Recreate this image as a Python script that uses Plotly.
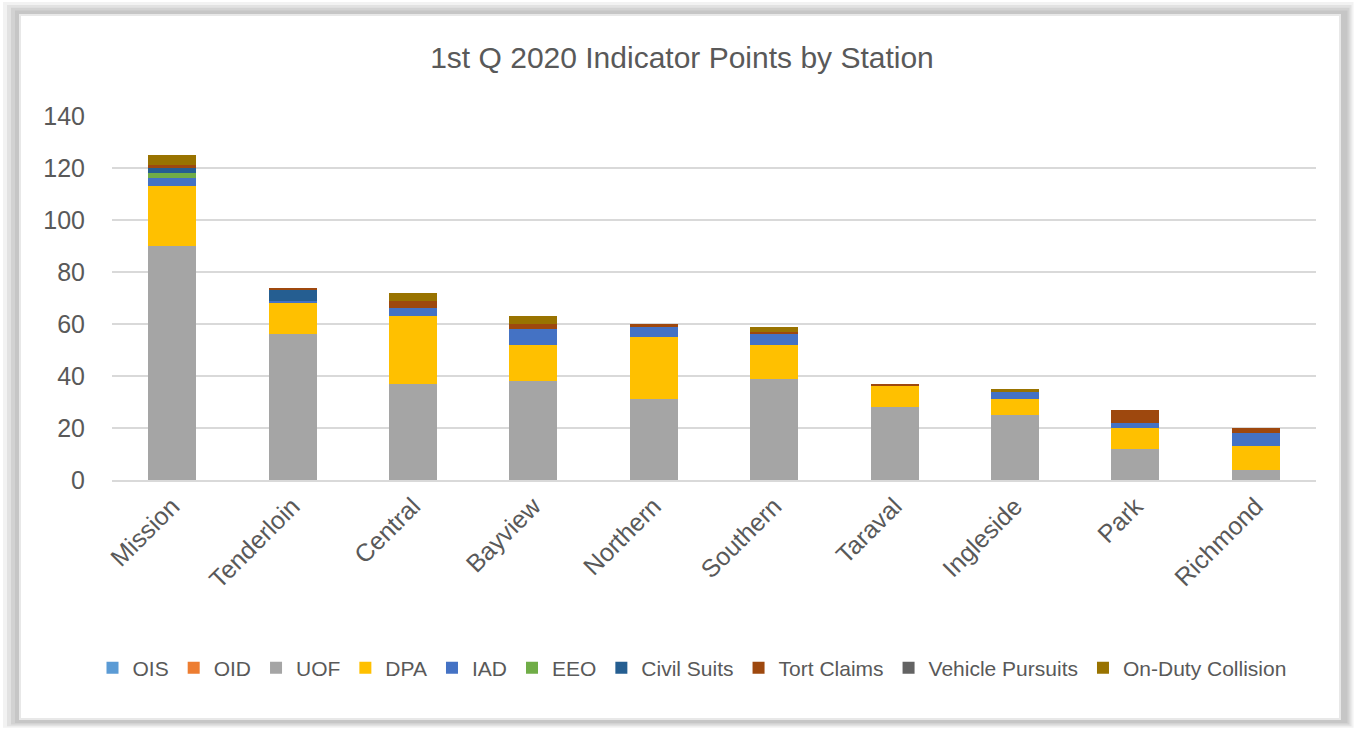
import plotly.graph_objects as go

stations = ["Mission", "Tenderloin", "Central", "Bayview", "Northern", "Southern",
            "Taraval", "Ingleside", "Park", "Richmond"]

OIS = [0, 0, 0, 0, 0, 0, 0, 0, 0, 0]
OID = [0, 0, 0, 0, 0, 0, 0, 0, 0, 0]
UOF = [90, 56, 37, 38, 31, 39, 28, 25, 12, 4]
DPA = [23, 12, 26, 14, 24, 13, 8, 6, 8, 9]
IAD = [3, 1, 3, 6, 4, 4, 0, 3, 2, 5]
EEO = [2, 0, 0, 0, 0, 0, 0, 0, 0, 0]
CIVIL = [2, 4, 0, 0, 0, 0, 0, 0, 0, 0]
TORT = [1, 1, 3, 2, 1, 1, 1, 0, 5, 2]
VEHICLE = [0, 0, 0, 0, 0, 0, 0, 0, 0, 0]
COLLISION = [4, 0, 3, 3, 0, 2, 0, 1, 0, 0]

series = [
    ("OIS", OIS, "#5B9BD5"),
    ("OID", OID, "#ED7D31"),
    ("UOF", UOF, "#A5A5A5"),
    ("DPA", DPA, "#FFC000"),
    ("IAD", IAD, "#4472C4"),
    ("EEO", EEO, "#70AD47"),
    ("Civil Suits", CIVIL, "#255E91"),
    ("Tort Claims", TORT, "#9E480E"),
    ("Vehicle Pursuits", VEHICLE, "#636363"),
    ("On-Duty Collision", COLLISION, "#997300"),
]

FONT = "Liberation Sans"
W, H = 1355, 729
L, R, T, B = 112, 1316, 116, 480

fig = go.Figure()
for name, vals, col in series:
    fig.add_trace(go.Bar(name=name, x=stations, y=vals, marker_color=col,
                         marker_line_width=0))

def px2paper_x(px):
    return (px - L) / (R - L)

def px2paper_y(py):
    return (B - py) / (B - T)

shapes = []
# shadow layers around the chart box
shadow = [(3, "#f2f2f2"), (7, "#e2e2e2"), (11, "#d2d2d2"), (15, "#c6c6c6")]
for inset, col in shadow:
    shapes.append(dict(type="rect", xref="paper", yref="paper", layer="below",
                       x0=px2paper_x(inset), x1=px2paper_x(W - inset * 0.5),
                       y0=px2paper_y(inset * 0.7), y1=px2paper_y(H - inset * 0.4),
                       fillcolor=col, line_width=0))
shapes.append(dict(type="rect", xref="paper", yref="paper", layer="below",
                   x0=px2paper_x(19), x1=px2paper_x(1341),
                   y0=px2paper_y(14), y1=px2paper_y(720),
                   fillcolor="#e8e8e8", line_width=0))
shapes.append(dict(type="rect", xref="paper", yref="paper", layer="below",
                   x0=px2paper_x(21), x1=px2paper_x(1339),
                   y0=px2paper_y(16), y1=px2paper_y(718),
                   fillcolor="white", line_width=0))

fig.update_layout(
    width=W, height=H,
    barmode="stack",
    bargap=0.6,
    paper_bgcolor="white",
    plot_bgcolor="rgba(0,0,0,0)",
    margin=dict(l=L, r=W - R, t=T, b=H - B, pad=0),
    title=dict(text="1st Q 2020 Indicator Points by Station", x=682 / W, xref="container",
               xanchor="center", y=1 - 57 / H, yref="container", yanchor="middle",
               font=dict(family=FONT, size=30, color="#595959")),
    font=dict(family=FONT, color="#595959"),
    xaxis=dict(tickangle=-45, tickfont=dict(size=25, color="#595959"),
               showgrid=False, showline=True, linecolor="#d9d9d9", linewidth=1.5,
               ticks="", fixedrange=True),
    yaxis=dict(range=[0, 140], dtick=20, tickfont=dict(size=25, color="#595959"),
               gridcolor="#d9d9d9", gridwidth=1.5, zeroline=False, showline=False,
               ticks="", ticklabelstandoff=26, fixedrange=True),
    legend=dict(orientation="h", x=px2paper_x(692), xanchor="center",
                y=px2paper_y(668), yanchor="middle",
                font=dict(size=21, color="#595959"),
                itemwidth=30, tracegroupgap=0, traceorder="normal",
                itemclick=False, itemdoubleclick=False),
    shapes=shapes,
    showlegend=True,
)

fig.write_html("out.html", config={"displayModeBar": False},
               post_script="document.body.style.margin='0';document.body.style.overflow='hidden';")
